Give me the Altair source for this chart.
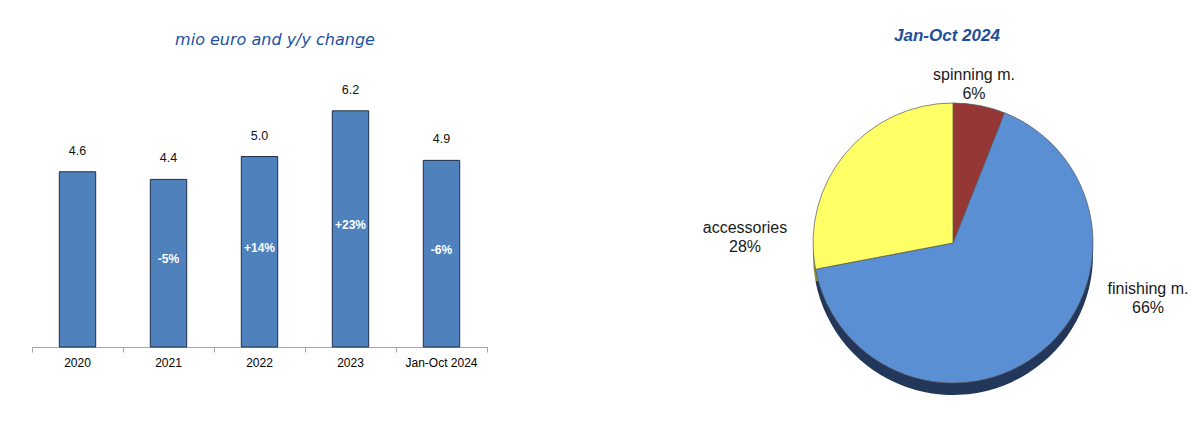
import altair as alt
import pandas as pd

# ---- data ----
categories = ["2020", "2021", "2022", "2023", "Jan-Oct 2024"]
values = [4.6, 4.4, 5.0, 6.2, 4.9]
changes = ["", "-5%", "+14%", "+23%", "-6%"]

pie_categories = ["spinning m.", "finishing m.", "accessories"]
pie_shares = [6, 66, 28]

bar_title = "mio euro and y/y change"
pie_title = "Jan-Oct 2024"

bar_df = pd.DataFrame({
    "cat": categories,
    "value": values,
    "change": changes,
    "label": [f"{v:.1f}" for v in values],
})
pie_df = pd.DataFrame({
    "cat": pie_categories,
    "share": pie_shares,
    "order": list(range(len(pie_categories))),
    "pct": [f"{s}%" for s in pie_shares],
})

# ---- bar panel ----
BAR_W, BAR_H = 455, 339
YMAX = 8.9
x = alt.X(
    "cat:N", sort=categories, title=None,
    scale=alt.Scale(paddingInner=0, paddingOuter=0),
    axis=alt.Axis(
        bandPosition=1, tickExtra=True, labelAngle=0,
        labelFont="Liberation Sans", labelFontSize=12, labelColor="#000000",
        domainColor="#A6A6A6", tickColor="#A6A6A6", tickSize=5,
        labelPadding=5, grid=False,
    ),
)
yscale = alt.Scale(domain=[0, YMAX])

base = alt.Chart(bar_df)
bars = base.mark_bar(
    width=alt.RelativeBandSize(0.4), color="#4F81BD", stroke="#1F2D4A", strokeWidth=1
).encode(x=x, y=alt.Y("value:Q", scale=yscale, axis=None))

vals = base.mark_text(
    dy=-21, fontSize=12.5, font="Liberation Sans", color="#111111"
).encode(x=x, y=alt.Y("value:Q", scale=yscale, axis=None), text="label:N")

chg = base.transform_calculate(mid="datum.value / 2").mark_text(
    dy=-4, fontSize=12, fontWeight="bold", font="Liberation Sans", color="white"
).encode(x=x, y=alt.Y("mid:Q", scale=yscale, axis=None), text="change:N")

btitle = alt.Chart(pd.DataFrame({"t": [bar_title]})).mark_text(
    font="DejaVu Sans", fontStyle="italic", fontWeight=500, fontSize=16, color="#2150A3"
).encode(x=alt.value(243), y=alt.value(32), text="t:N")

bar_panel = alt.layer(bars, vals, chg, btitle).properties(width=BAR_W, height=BAR_H)

# ---- pie panel ----
PIE_W, PIE_H = 505, 390
CX, CY, R = 265, 235, 140

pbase = alt.Chart(pie_df)
theta = alt.Theta("share:Q", stack=True)
porder = alt.Order("order:Q")

shadow = pbase.mark_arc(radius=R).encode(
    theta=theta, order=porder,
    x=alt.value(CX), y=alt.value(CY + 12),
    color=alt.Color("cat:N", legend=None,
                    scale=alt.Scale(domain=pie_categories,
                                    range=["#5C2120", "#22375A", "#8C8C2E"])),
)
pie = pbase.mark_arc(radius=R, stroke="#555555", strokeWidth=0.7).encode(
    theta=theta, order=porder,
    x=alt.value(CX), y=alt.value(CY),
    color=alt.Color("cat:N", legend=None,
                    scale=alt.Scale(domain=pie_categories,
                                    range=["#953735", "#5B8FD4", "#FFFF66"])),
)

label_pos = {
    "spinning m.": (286, 67),
    "finishing m.": (460, 281),
    "accessories": (57, 220),
}
label_layers = []
for cat in pie_categories:
    lx, ly = label_pos[cat]
    label_layers.append(
        pbase.transform_filter(alt.datum.cat == cat)
        .transform_calculate(txt="datum.cat + '\\n' + datum.pct")
        .mark_text(font="Liberation Sans", fontSize=16, color="#1A1A1A",
                   lineBreak="\n", lineHeight=19, baseline="middle", align="center")
        .encode(x=alt.value(lx), y=alt.value(ly), text="txt:N")
    )

ptitle = alt.Chart(pd.DataFrame({"t": [pie_title]})).mark_text(
    font="Liberation Sans", fontStyle="italic", fontWeight="bold", fontSize=17, color="#1F4E9E"
).encode(x=alt.value(259), y=alt.value(28), text="t:N")

pie_panel = (
    alt.layer(shadow, pie, *label_layers, ptitle)
    .resolve_scale(color="independent")
    .properties(width=PIE_W, height=PIE_H)
)

chart = (
    alt.hconcat(bar_panel, pie_panel, spacing=200)
    .configure_view(stroke=None)
    .properties(padding={"left": 23, "top": 0, "right": 0, "bottom": 5})
)

chart.save("out.html", embed_options={"renderer": "svg", "actions": False})
